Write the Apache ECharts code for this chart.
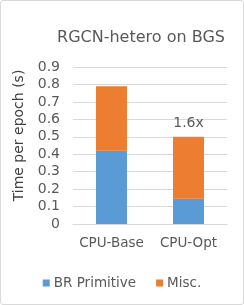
<!DOCTYPE html>
<html><head><meta charset="utf-8">
<script src="https://cdn.jsdelivr.net/npm/echarts@6/dist/echarts.min.js"></script>
<style>html,body{margin:0;padding:0;background:#fff}#c{width:244px;height:305px;box-sizing:border-box;border:1px solid #D9D9D9;border-radius:3px}</style>
</head><body><div id="c"></div>
<script>
const categories = ['CPU-Base', 'CPU-Opt'];
const brPrimitive = [0.42, 0.145];
const misc = [0.37, 0.355];
const speedupLabels = ['', '1.6x'];
const yTicks = [0, 0.1, 0.2, 0.3, 0.4, 0.5, 0.6, 0.7, 0.8, 0.9];

const font = 'DejaVu Sans';
const txt = '#595959';
const chart = echarts.init(document.getElementById('c'), null, {renderer: 'canvas'});
chart.setOption({
  animation: false,
  textStyle: {fontFamily: font},
  title: {text: 'RGCN-hetero on BGS', left: 135, top: 24, textAlign: 'center',
    textStyle: {fontFamily: font, fontSize: 16, fontWeight: 'normal', color: txt}},
  grid: {left: 72, right: 16, top: 66, bottom: 80},
  legend: {top: 270, left: 'center', itemWidth: 7, itemHeight: 7, itemGap: 20,
    icon: 'rect', textStyle: {fontFamily: font, fontSize: 13.5, color: txt, padding: [0,0,0,-1]},
    data: ['BR Primitive', 'Misc.']},
  xAxis: {type: 'category', data: categories,
    axisLine: {lineStyle: {color: '#D9D9D9'}}, axisTick: {show: false},
    axisLabel: {interval: 0, fontFamily: font, fontSize: 13.5, color: txt, margin: 12}},
  yAxis: {type: 'value', min: yTicks[0], max: yTicks[yTicks.length-1], interval: 0.1,
    name: 'Time per epoch (s)', nameLocation: 'middle', nameGap: 47,
    nameTextStyle: {fontFamily: font, fontSize: 14, color: '#404040', padding: [0, 0, 0, 20]},
    axisLine: {show: false}, axisTick: {show: false},
    splitLine: {lineStyle: {color: '#D9D9D9'}},
    axisLabel: {fontFamily: font, fontSize: 14, color: txt, margin: 13,
      formatter: v => v === 0 ? '0' : v.toFixed(1)}},
  series: [
    {name: 'BR Primitive', type: 'bar', stack: 's', barWidth: 31, data: brPrimitive,
      itemStyle: {color: '#5B9BD5'}},
    {name: 'Misc.', type: 'bar', stack: 's', barWidth: 31, data: misc,
      itemStyle: {color: '#ED7D31'},
      label: {show: true, position: 'top', distance: 6, fontFamily: font, fontSize: 14, color: txt,
        formatter: p => speedupLabels[p.dataIndex]}}
  ]
});
</script></body></html>
